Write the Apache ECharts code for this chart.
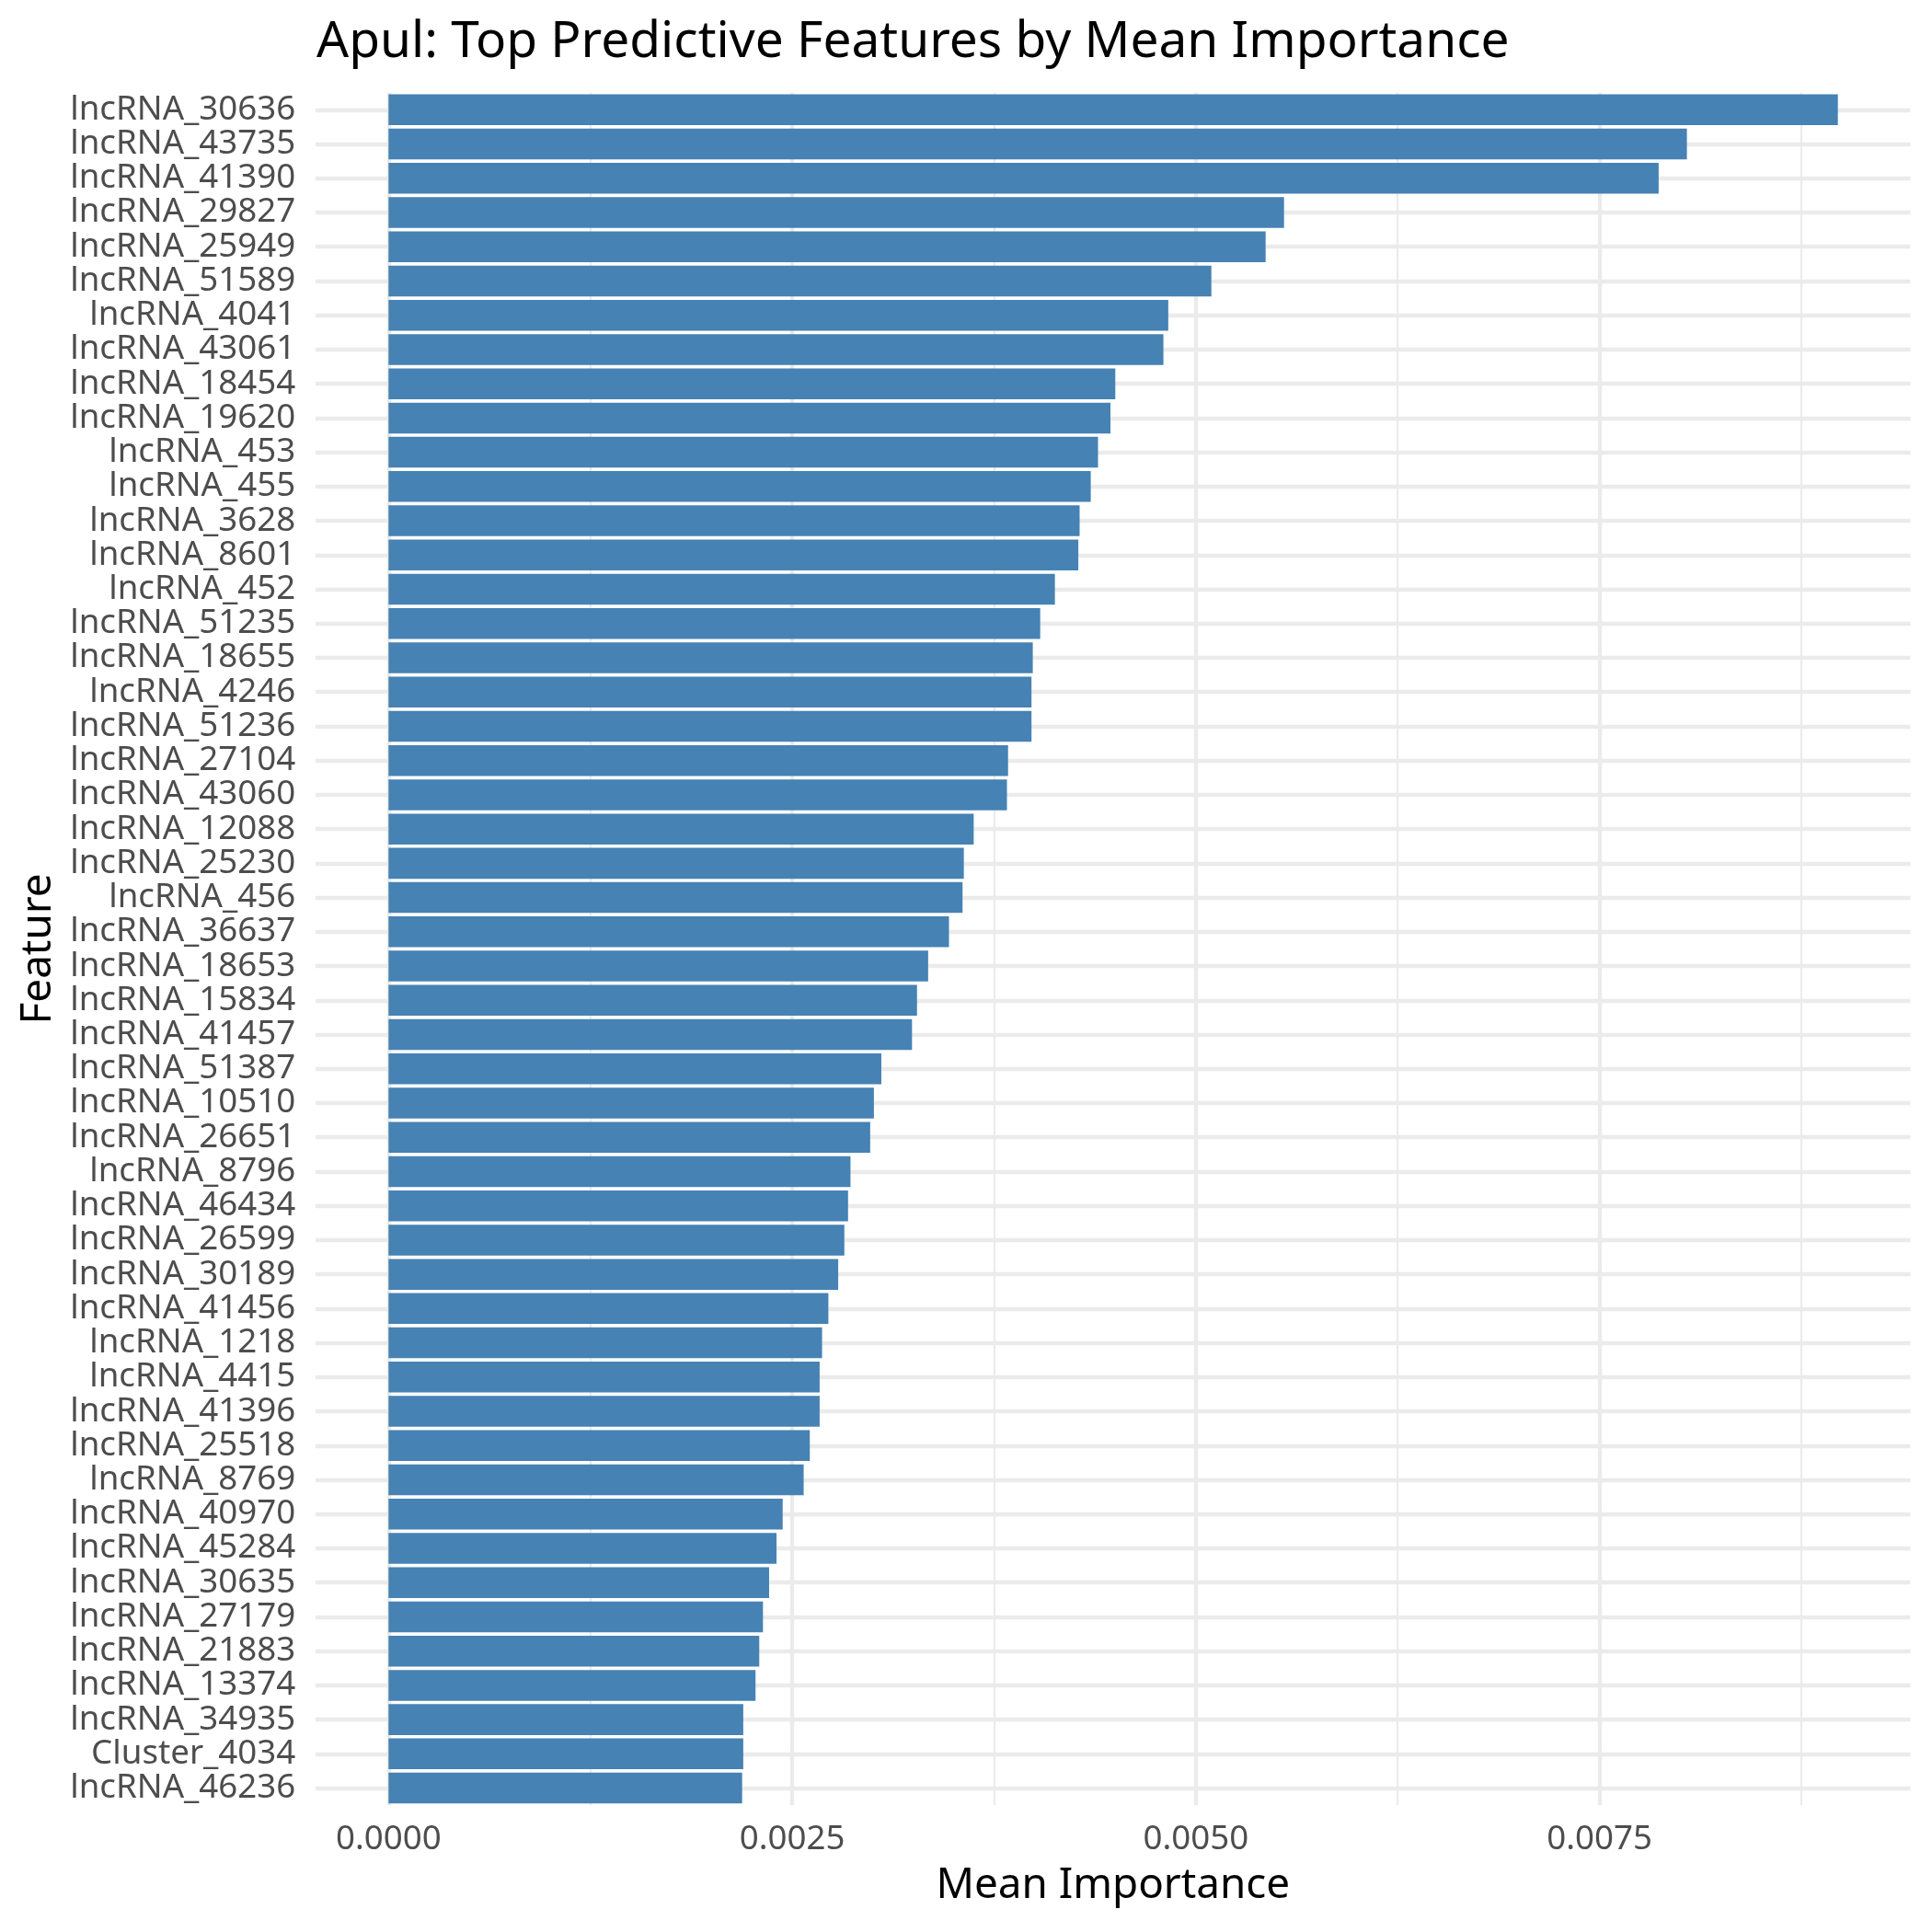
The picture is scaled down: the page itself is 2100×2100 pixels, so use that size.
<!DOCTYPE html>
<html>
<head>
<meta charset="utf-8">
<script src="https://cdn.jsdelivr.net/npm/echarts@6/dist/echarts.min.js"></script>
<style>html,body{margin:0;padding:0;background:#fff}#c{width:2100px;height:2100px}</style>
</head>
<body>
<div id="c"></div>
<script>
const features = ["lncRNA_30636","lncRNA_43735","lncRNA_41390","lncRNA_29827","lncRNA_25949","lncRNA_51589","lncRNA_4041","lncRNA_43061","lncRNA_18454","lncRNA_19620","lncRNA_453","lncRNA_455","lncRNA_3628","lncRNA_8601","lncRNA_452","lncRNA_51235","lncRNA_18655","lncRNA_4246","lncRNA_51236","lncRNA_27104","lncRNA_43060","lncRNA_12088","lncRNA_25230","lncRNA_456","lncRNA_36637","lncRNA_18653","lncRNA_15834","lncRNA_41457","lncRNA_51387","lncRNA_10510","lncRNA_26651","lncRNA_8796","lncRNA_46434","lncRNA_26599","lncRNA_30189","lncRNA_41456","lncRNA_1218","lncRNA_4415","lncRNA_41396","lncRNA_25518","lncRNA_8769","lncRNA_40970","lncRNA_45284","lncRNA_30635","lncRNA_27179","lncRNA_21883","lncRNA_13374","lncRNA_34935","Cluster_4034","lncRNA_46236"];
const importance = [0.008976,0.008041,0.007866,0.005546,0.005432,0.005096,0.004829,0.004799,0.004501,0.004471,0.004394,0.004349,0.004280,0.004272,0.004127,0.004036,0.003990,0.003982,0.003982,0.003837,0.003830,0.003624,0.003563,0.003555,0.003471,0.003342,0.003273,0.003242,0.003052,0.003006,0.002983,0.002861,0.002846,0.002823,0.002785,0.002724,0.002685,0.002670,0.002670,0.002609,0.002571,0.002441,0.002403,0.002357,0.002319,0.002296,0.002273,0.002197,0.002197,0.002190];
const xTickInterval = 0.0025;

const FONT = "'Noto Sans', 'Open Sans', sans-serif";
const GRID_TOP = 100.7, GRID_BOTTOM = 137.8, GRID_RIGHT = 23.5;
const chart = echarts.init(document.getElementById('c'), null, {renderer: 'canvas'});
chart.setOption({
  backgroundColor: '#ffffff',
  animation: false,
  title: {
    text: 'Apul: Top Predictive Features by Mean Importance',
    left: 344, top: 19, padding: 0,
    textStyle: {fontFamily: FONT, fontSize: 55, fontWeight: 'normal', color: '#000', lineHeight: 55}
  },
  grid: [
    {left: 343, right: GRID_RIGHT, top: GRID_TOP, bottom: GRID_BOTTOM, containLabel: false},
    {left: 422.3, right: GRID_RIGHT, top: GRID_TOP, bottom: GRID_BOTTOM, containLabel: false}
  ],
  xAxis: [
    {
      type: 'value', gridIndex: 0, min: 0, max: 1,
      name: 'Mean Importance', nameLocation: 'middle', nameGap: 65,
      nameTextStyle: {fontFamily: FONT, fontSize: 45.8, color: '#000', lineHeight: 46},
      axisLine: {show: false}, axisTick: {show: false}, axisLabel: {show: false}, splitLine: {show: false}
    },
    {
      type: 'value', gridIndex: 1, min: 0, max: 0.009425, interval: xTickInterval,
      axisLine: {show: false}, axisTick: {show: false},
      axisLabel: {
        fontFamily: FONT, fontSize: 36.7, color: '#4D4D4D', lineHeight: 37, margin: 18.7,
        showMaxLabel: false,
        formatter: v => v.toFixed(4)
      },
      splitLine: {show: true, showMaxLine: false, lineStyle: {color: '#EBEBEB', width: 4.3}},
      minorTick: {show: false, splitNumber: 2},
      minorSplitLine: {show: true, lineStyle: {color: '#EBEBEB', width: 2.2}}
    }
  ],
  yAxis: [
    {
      type: 'category', gridIndex: 0, data: features, inverse: true,
      name: 'Feature', nameLocation: 'middle', nameGap: 278, nameRotate: 90,
      nameTextStyle: {fontFamily: FONT, fontSize: 45.8, color: '#000', lineHeight: 46},
      axisLine: {show: false}, axisTick: {show: false}, axisLabel: {show: false},
      splitLine: {show: true, alignWithLabel: true, lineStyle: {color: '#EBEBEB', width: 4.3}}
    },
    {
      type: 'category', gridIndex: 1, data: features, inverse: true,
      axisLine: {show: false}, axisTick: {show: false},
      axisLabel: {fontFamily: FONT, fontSize: 36.7, color: '#4D4D4D', margin: 101, interval: 0},
      splitLine: {show: false}
    }
  ],
  series: [
    {
      type: 'bar', xAxisIndex: 1, yAxisIndex: 1,
      data: importance, barWidth: '90%',
      itemStyle: {color: '#4682B4'}, z: 5
    }
  ]
});
</script>
</body>
</html>
